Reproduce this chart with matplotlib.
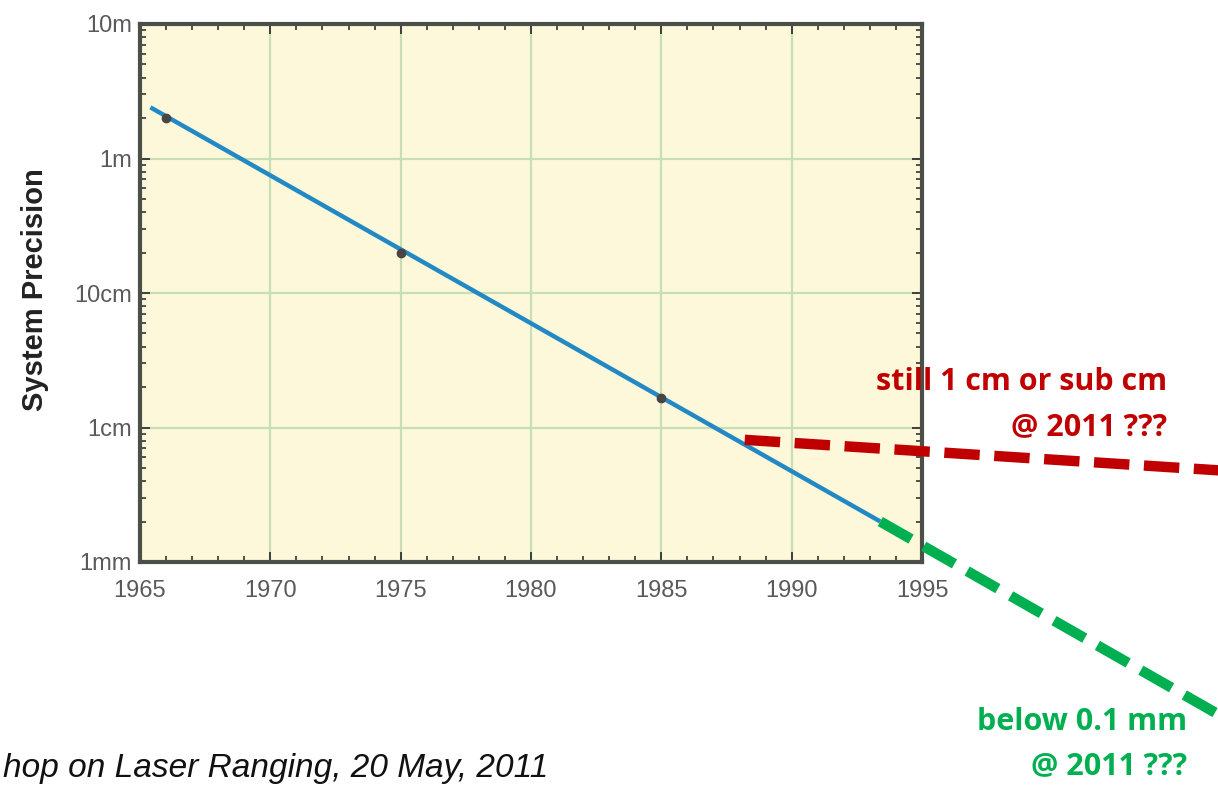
import matplotlib
matplotlib.use("Agg")
import matplotlib.pyplot as plt
from matplotlib.ticker import FixedLocator, LogLocator, MultipleLocator, NullFormatter

# trend line (year, precision in metres)
trend_years = [1965.4, 1993.4]
trend_prec = [2.4, 0.0020]

# measured points
point_years = [1966, 1975, 1985]
point_prec = [2.0, 0.20, 0.0166]

# projections to 2011
red_years = [1988.2, 2006.4]
red_prec = [0.0081, 0.0048]
green_years = [1993.4, 2006.4]
green_prec = [0.0020, 0.000073]

ytick_vals = [0.001, 0.01, 0.1, 1, 10]
ytick_labels = ["1mm", "1cm", "10cm", "1m", "10m"]
xtick_vals = [1965, 1970, 1975, 1980, 1985, 1990, 1995]

sans = ["Liberation Sans", "DejaVu Sans"]
label_grey = "#5a5a5a"
spine_col = "#4a4f4a"

fig = plt.figure(figsize=(12.18, 7.86), dpi=100)
ax = fig.add_axes([140 / 1218, 1 - 562 / 786, 782 / 1218, 538 / 786])
ax.set_facecolor("#fef8da")
ax.set_yscale("log")
ax.set_xlim(1965, 1995)
ax.set_ylim(0.001, 10)

ax.xaxis.set_major_locator(FixedLocator(xtick_vals))
ax.xaxis.set_minor_locator(MultipleLocator(1))
ax.yaxis.set_major_locator(FixedLocator(ytick_vals))
ax.yaxis.set_minor_locator(LogLocator(base=10, subs=range(2, 10)))
ax.yaxis.set_minor_formatter(NullFormatter())
ax.set_yticks(ytick_vals, labels=ytick_labels)
ax.set_xticks(xtick_vals, labels=[str(v) for v in xtick_vals])

ax.grid(True, which="major", color="#c6dfb4", linewidth=1.6)
ax.tick_params(which="both", direction="in", top=True, right=True,
               color="#333333", labelcolor=label_grey)
ax.tick_params(which="major", length=7, width=1.3, labelsize=17)
ax.tick_params(axis="x", which="major", pad=13)
ax.tick_params(axis="y", which="major", pad=6)
ax.tick_params(which="minor", length=4, width=1.2)
for lab in ax.get_xticklabels() + ax.get_yticklabels():
    lab.set_family(sans)
for sp in ax.spines.values():
    sp.set_color(spine_col)
    sp.set_linewidth(3)

fig.text(35 / 1218, 1 - 290 / 786, "System Precision", rotation=90,
         fontsize=21, fontweight="bold", family=sans, color="#222222",
         ha="center", va="center")

ax.plot(trend_years, trend_prec, color="#2389c4", linewidth=3.2,
        solid_capstyle="butt", zorder=3)
ax.plot(point_years, point_prec, "o", color="#4a4444", markersize=6, zorder=4)

ax.plot(red_years, red_prec, color="#c00000", linewidth=7.5,
        dashes=(3.4, 1.4), clip_on=False, zorder=5)
ax.plot(green_years, green_prec, color="#00b050", linewidth=7.5,
        dashes=(3.4, 1.4), clip_on=False, zorder=5)

bold_font = ["Open Sans", "DejaVu Sans"]
fig.text(1167 / 1218, 1 - 382 / 786, "still 1 cm or sub cm", color="#c00000",
         fontsize=22, fontweight="bold", family=bold_font, ha="right", va="center")
fig.text(1167 / 1218, 1 - 427 / 786, "@ 2011 ???", color="#c00000",
         fontsize=22, fontweight="bold", family=bold_font, ha="right", va="center")
fig.text(1187 / 1218, 1 - 722 / 786, "below 0.1 mm", color="#00b050",
         fontsize=22, fontweight="bold", family=bold_font, ha="right", va="center")
fig.text(1187 / 1218, 1 - 766 / 786, "@ 2011 ???", color="#00b050",
         fontsize=22, fontweight="bold", family=bold_font, ha="right", va="center")

fig.text(548 / 1218, 2 / 786, "hop on Laser Ranging, 20 May, 2011",
         color="#111111", fontsize=24, style="italic",
         family=sans, ha="right", va="bottom")

fig.savefig("out.png", dpi=100, facecolor="white")
